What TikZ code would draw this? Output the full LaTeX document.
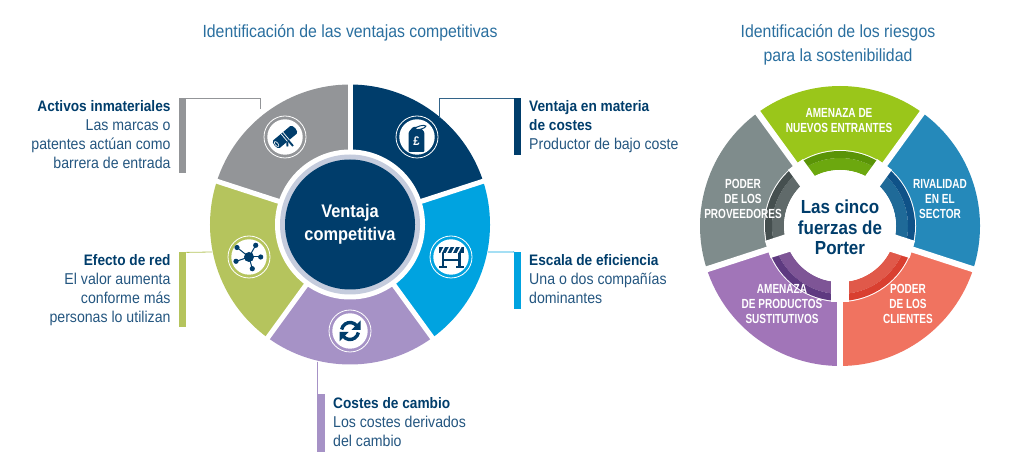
\documentclass[tikz,border=0pt]{standalone}
\usepackage{fontspec}
\setmainfont{Liberation Sans}[FakeStretch=0.9]
\newfontfamily\narrowf{Liberation Sans}[FakeStretch=0.76]
\usetikzlibrary{calc}
\definecolor{navy}{HTML}{003D6B}
\definecolor{skyb}{HTML}{00A3E0}
\definecolor{olive}{HTML}{B5C45D}
\definecolor{grayseg}{HTML}{939598}
\definecolor{lilac}{HTML}{A692C6}
\definecolor{hubring}{HTML}{C5CCDD}
\definecolor{bodyt}{HTML}{245680}
\definecolor{titlet}{HTML}{2A6F9F}
\definecolor{fgreen}{HTML}{9AC61A}\definecolor{fgreenA}{HTML}{6CA80F}\definecolor{fgreenB}{HTML}{5A9407}
\definecolor{fblue}{HTML}{2589BA}\definecolor{fblueA}{HTML}{1F6A98}\definecolor{fblueB}{HTML}{0F5288}
\definecolor{fred}{HTML}{F07360}\definecolor{fredA}{HTML}{E0594A}\definecolor{fredB}{HTML}{D93F30}
\definecolor{fpurp}{HTML}{A175B8}\definecolor{fpurpA}{HTML}{7E5596}\definecolor{fpurpB}{HTML}{5E3A80}
\definecolor{fgray}{HTML}{7F8C8C}\definecolor{fgrayA}{HTML}{606A6A}\definecolor{fgrayB}{HTML}{454F4F}
% colour, centre, a1, a2, r1, r2
\newcommand\sectorfill[6]{\fill[#1] ($(#2)+(#3:#5pt)$) arc[start angle=#3,end angle=#4,radius=#5pt] -- ($(#2)+(#4:#6pt)$) arc[start angle=#4,end angle=#3,radius=#6pt] -- cycle;}
\newcommand\hd[1]{{\fontsize{15.2}{19}\selectfont\bfseries\textcolor{navy}{#1}}}
\tikzset{
 bar/.style={fill=#1,inner sep=0pt,minimum width=7pt,minimum height=57pt,anchor=north west},
 leader/.style={draw=#1,line width=0.8pt},
 desc/.style={text=bodyt,font=\fontsize{15.7}{19}\selectfont,inner sep=0pt},
 titlenode/.style={text=titlet,font=\fontsize{17.6}{23.5}\selectfont,align=center,inner sep=0pt},
 flabel/.style={text=white,font=\narrowf\bfseries\fontsize{13.2}{15.2}\selectfont,align=center,inner sep=0pt},
}
\newcommand\ringed[2]{\draw[white,line width=.8pt] (#1) circle[radius=21pt]; \fill[white] (#1) circle[radius=17.7pt]; \begin{scope}[shift={(#1)}] #2 \end{scope}}
\begin{document}
\begin{tikzpicture}[x=1pt,y=1pt]
\useasboundingbox (0,0) rectangle (1024,471);
\coordinate (L) at (350,246.5);
\coordinate (R) at (840,245);
% left wheel
\sectorfill{navy}{L}{18}{90}{60}{140}
\sectorfill{skyb}{L}{-54}{18}{60}{140}
\sectorfill{lilac}{L}{-126}{-54}{60}{140}
\sectorfill{olive}{L}{-198}{-126}{60}{140}
\sectorfill{grayseg}{L}{90}{162}{60}{140}
\foreach \a in {90,18,-54,-126,162}{\draw[white,line width=5pt] (L) -- ($(L)+(\a:143pt)$);}
\fill[white] (L) circle[radius=75pt];
\fill[hubring] (L) circle[radius=70pt];
\node[circle,fill=navy,minimum size=130pt,inner sep=0pt,text=white,align=center,font=\bfseries\fontsize{18.2}{22.5}\selectfont] (hubL) at (L) {Ventaja\\competitiva};
% bars
\node[bar=grayseg,minimum height=75pt] (barA) at (179,373) {};
\node[bar=olive,minimum height=75pt] (barD) at (179,219) {};
\node[bar=navy] (barB) at (514,373) {};
\node[bar=skyb] (barC) at (514,219.5) {};
\node[bar=lilac,minimum width=8pt,minimum height=58pt] (barE) at (317,77) {};
% leaders
\coordinate (segA) at (260,362);
\coordinate (segB) at (439,353);
\coordinate (segC) at (488,219);
\coordinate (segD) at (212,219);
\coordinate (segE) at (317.5,109);
\draw[leader=grayseg] (barA.north east) -| (segA);
\draw[leader=navy!80] (barB.north west) ++(0,-.4) -| (segB);
\draw[leader=skyb] (barC.north west) ++(0,-.4) -- (segC);
\draw[leader=olive] (barD.north east) ++(0,-.4) -- (segD);
\draw[leader=lilac] (barE.north west) ++(.4,0) -- (segE);
% icons
\coordinate (icA) at (285,334);
\coordinate (icB) at (417,334);
\coordinate (icC) at (451,214);
\coordinate (icD) at (249,214);
\coordinate (icE) at (350,140);
\ringed{icA}{
 \draw[navy,line width=1.9pt] (2,-2) -- (8,-9) (2,-2) -- (2.5,-9.5);
 \begin{scope}[rotate=40]
  \fill[navy] (-11,-5) rectangle (11,5);
  \fill[navy] (-11,0) ellipse[x radius=2.5,y radius=5];
  \fill[navy] (11,0) ellipse[x radius=2.5,y radius=5];
  \draw[white,line width=.7pt] (-1,-5) -- (-1,5) (1.5,-5) -- (1.5,5);
  \draw[white,line width=.6pt] (-11,0) ellipse[x radius=1.5,y radius=3];
 \end{scope}
}
\ringed{icB}{
 \fill[navy,rounded corners=1pt] (-4,10) -- (-8.3,5) -- (-8.3,-15) -- (7.3,-15) -- (7.3,5) -- (3,10) -- cycle;
 \draw[navy,line width=1pt,fill=white] (3.5,9.5) ellipse[x radius=5.5,y radius=1.7,rotate=15];
 \node[text=white,inner sep=0pt,font=\bfseries\fontsize{12.5}{12.5}\selectfont] (pound) at (-.5,-4) {£};
}
\ringed{icC}{
 \fill[navy] (-12.5,3.5) rectangle (12.5,10);
 \foreach \s in {-11,-5.5,0,5.5}{\fill[white] (\s,3.5) -- (\s+1.6,3.5) -- (\s+5,10) -- (\s+3.4,10) -- cycle;}
 \fill[navy] (-9.5,-10) rectangle (-7,3.5);
 \fill[navy] (7,-10) rectangle (9.5,3.5);
 \fill[navy] (-12.5,-11) rectangle (-4.5,-9);
 \fill[navy] (4.5,-11) rectangle (12.5,-9);
 \fill[navy] (-7,-4) rectangle (7,-2.5);
}
\ringed{icD}{
 \foreach \x/\y in {6.7/11.7,-12/9.5,11.7/0,3.3/-11.7,-13/-4.3}{
  \draw[navy,line width=1pt] (0,0) -- (\x,\y);
  \fill[navy] (\x,\y) circle[radius=2.6];}
 \fill[navy] (0,0) circle[radius=5];
}
\ringed{icE}{
 \draw[navy,line width=3.4pt] (170:8.5pt) arc[start angle=170,end angle=40,radius=8.5pt];
 \fill[navy] (10.5,10.5) -- (10.5,1) -- (1.5,1) -- cycle;
 \draw[navy,line width=3.4pt] (-10:8.5pt) arc[start angle=-10,end angle=-140,radius=8.5pt];
 \fill[navy] (-10.5,-10.5) -- (-10.5,-1) -- (-1.5,-1) -- cycle;
}
% left texts
\node[desc,align=right,anchor=north east] (tA) at (170.7,371) {\hd{Activos inmateriales}\\Las marcas o\\patentes actúan como\\barrera de entrada};
\node[desc,align=right,anchor=north east] (tD) at (170.7,217) {\hd{Efecto de red}\\El valor aumenta\\conforme más\\personas lo utilizan};
\node[desc,align=left,anchor=north west] (tB) at (529,371) {\hd{Ventaja en materia}\\\hd{de costes}\\Productor de bajo coste};
\node[desc,align=left,anchor=north west] (tC) at (529,217) {\hd{Escala de eficiencia}\\Una o dos compañías\\dominantes};
\node[desc,align=left,anchor=north west] (tE) at (333,74) {\hd{Costes de cambio}\\Los costes derivados\\del cambio};
% titles
\node[titlenode] (titleL) at (350,438) {Identificación de las ventajas competitivas};
\node[titlenode] (titleR) at (838,426) {Identificación de los riesgos\\para la sostenibilidad};
% right wheel
\sectorfill{fgreen}{R}{54}{126}{56}{140}
\sectorfill{fblue}{R}{-18}{54}{56}{140}
\sectorfill{fred}{R}{-90}{-18}{56}{140}
\sectorfill{fpurp}{R}{-162}{-90}{56}{140}
\sectorfill{fgray}{R}{126}{198}{56}{140}
\foreach \a/\c in {54/fgreen,-18/fblue,-90/fred,-162/fpurp,126/fgray}{
 \sectorfill{white}{R}{\a}{\a+72}{0}{76}
 \sectorfill{\c A}{R}{\a}{\a+72}{56}{68}
 \sectorfill{\c B}{R}{\a}{\a+72}{68}{75}
}
\foreach \a in {54,126,198,-18,-90}{
 \draw[white,line width=6pt] (R) -- ($(R)+(\a:143pt)$);
 \draw[white,line width=18pt] (R) -- ($(R)+(\a:76pt)$);
}
\fill[white] (R) circle[radius=56pt];
\node[text=navy,align=center,inner sep=0pt,font=\bfseries\fontsize{18.9}{20.5}\selectfont] (hubR) at (840,243.5) {Las cinco\\fuerzas de\\Porter};
\node[flabel] (f1) at (839,350.5) {AMENAZA DE\\NUEVOS ENTRANTES};
\node[flabel] (f2) at (940,272) {RIVALIDAD\\EN EL\\SECTOR};
\node[flabel] (f3) at (908,167) {PODER\\DE LOS\\CLIENTES};
\node[flabel] (f4) at (782,167) {AMENAZA\\DE PRODUCTOS\\SUSTITUTIVOS};
\node[flabel] (f5) at (743,272) {PODER\\DE LOS\\PROVEEDORES};
\end{tikzpicture}
\end{document}
